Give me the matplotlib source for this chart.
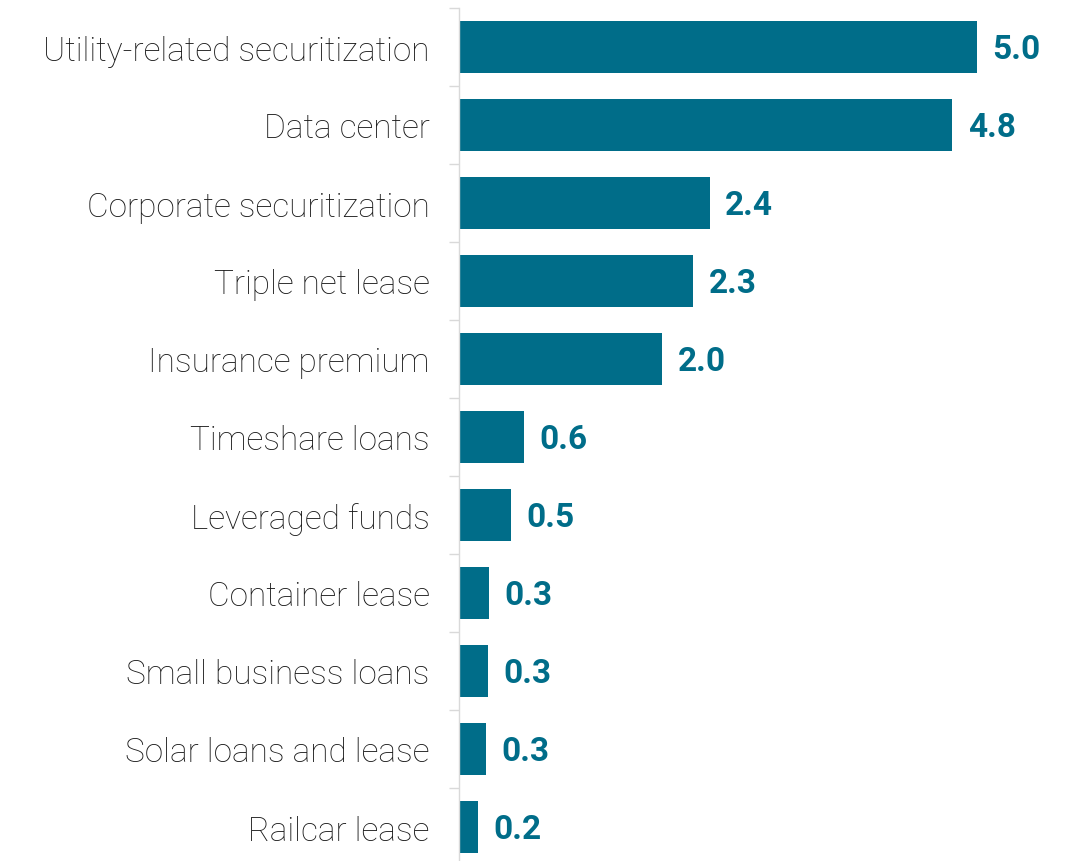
import matplotlib.pyplot as plt
import numpy as np

categories = [
    "Utility-related securitization",
    "Data center",
    "Corporate securitization",
    "Triple net lease",
    "Insurance premium",
    "Timeshare loans",
    "Leveraged funds",
    "Container lease",
    "Small business loans",
    "Solar loans and lease",
    "Railcar lease",
]
values = [5.0, 4.76, 2.42, 2.26, 1.96, 0.63, 0.5, 0.29, 0.28, 0.26, 0.18]

bar_color = "#006d89"
axis_gray = "#d9d9d9"

fig = plt.figure(figsize=(10.66, 8.62), dpi=100)
ax = fig.add_axes([459 / 1066, -5 / 862, 1 - 459 / 1066 - 0.035, 858 / 862])

y = np.arange(len(categories))
ax.barh(y, values, height=0.66, color=bar_color)

for yi, v in zip(y, values):
    ax.text(v + 0.15, yi + 0.03, f"{v:.1f}", va="center", ha="left",
            fontsize=24, fontweight="bold", color=bar_color, family="Roboto")

ax.set_ylim(len(categories) - 0.5, -0.5)
ax.set_xlim(0, 5.5)
ax.set_yticks(y)
ax.set_yticklabels(categories, fontsize=24, family="Roboto", fontweight="light",
                   color="#1a1a1a")
ax.set_yticks(np.arange(-0.5, len(categories), 1), minor=True)
ax.tick_params(axis="y", which="major", length=0, pad=21)
ax.tick_params(axis="y", which="minor", length=7, color=axis_gray, width=1)
ax.set_xticks([])

for side in ["top", "right", "bottom"]:
    ax.spines[side].set_visible(False)
ax.spines["left"].set_color(axis_gray)
ax.spines["left"].set_linewidth(1)

fig.savefig("out.png", dpi=100)
